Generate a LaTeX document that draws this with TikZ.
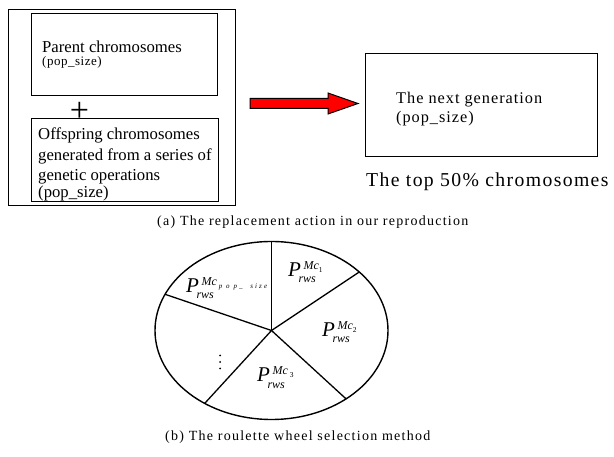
\documentclass[tikz,border=0pt]{standalone}
\usepackage{fontspec}
\setmainfont{Liberation Serif}
\usetikzlibrary{calc}

% P_{rws}^{...} label set in the text italic
\newcommand\prws[1]{{\fontsize{21}{21}\selectfont\itshape P}%
  \rlap{\kern-2.5pt\raisebox{-6pt}{\fontsize{12}{12}\selectfont\itshape rws}}%
  \kern2.5pt\raisebox{7pt}{\fontsize{12}{12}\selectfont\itshape #1}}
\newcommand\idx[1]{\raisebox{-2.5pt}{\fontsize{7.5}{7.5}\selectfont\upshape #1}}

\begin{document}
\begin{tikzpicture}[x=1pt,y=-1pt,
  box/.style={draw,line width=1.2pt,inner sep=0pt,anchor=north west},
  boxtext/.style={inner sep=0pt,anchor=base west,align=left,
    font=\fontsize{16.7}{20.5}\selectfont},
  spoke/.style={line width=1.3pt},
  caption/.style={inner sep=0pt,anchor=base west,
    font=\fontsize{14}{16}\selectfont\addfontfeature{LetterSpace=9}},
  plabel/.style={inner sep=0pt,anchor=base west},
  dot/.style={circle,fill,inner sep=0pt,minimum size=2pt}]
\useasboundingbox (0,0) rectangle (614,457);

% (a) replacement action
\node[box,minimum width=227pt,minimum height=196pt] (outer) at (8,9) {};
\node[box,minimum width=186pt,minimum height=82pt] (parent) at (31,13) {};
\node[box,minimum width=187pt,minimum height=83pt] (offspring) at (31,118) {};
\node[inner sep=0pt,font=\fontsize{34}{34}\selectfont] (plus) at (79.5,112) {+};

\node[boxtext] (parenttxt) at (42,53) {Parent chromosomes};
\node[boxtext,font=\fontsize{13}{13}\selectfont\addfontfeature{LetterSpace=4}]
  (parentsize) at (42,66) {(pop\_size)};
% the base of a multi-line node is its last line
\node[boxtext] (offtxt) at (38,197.5)
  {Offspring chromosomes\\generated from a series of\\genetic operations\\[-4pt](pop\_size)};

\node[box,minimum width=232pt,minimum height=103pt] (next) at (365,53) {};
\node[boxtext,font=\fontsize{16.3}{19}\selectfont\addfontfeature{LetterSpace=6}]
  (nexttxt) at (396,123) {The next generation\\(pop\_size)};
\node[inner sep=0pt,anchor=base west,
  font=\fontsize{19.7}{20}\selectfont\addfontfeature{LetterSpace=7}]
  (top) at (366,187) {The top 50\% chromosomes};

% red block arrow between the two parts
\coordinate (tail) at (250,103.5);
\coordinate (tip) at (358,103.5);
\draw[line width=1pt,fill=red,line join=miter]
  ($(tail)+(0,-5)$) -- ($(tip)+(-30,-5)$) -- ($(tip)+(-30,-10.5)$) -- (tip)
  -- ($(tip)+(-30,10.5)$) -- ($(tip)+(-30,5)$) -- ($(tail)+(0,5)$) -- cycle;

\node[caption] (capa) at (157,226) {(a) The replacement action in our reproduction};

% (b) roulette wheel
\coordinate (hub) at (271.5,330.5);
\draw[line width=1.4pt] (hub) ellipse [x radius=116.5, y radius=89];
\foreach \a/\n in {-90/s0,-41.1/s1,50.2/s2,125/s3,204/s4}{
  \coordinate (\n) at ($(hub)+(\a:116.5 and 89)$);
  \draw[spoke] (hub) -- (\n);
}

\node[plabel] (p1) at (288,277) {\prws{Mc\idx{1}}};
\node[plabel] (p2) at (322,337) {\prws{Mc\idx{2}}};
\node[plabel] (p3) at (257,382) {\prws{Mc\,\idx{3}}};
\node[plabel] (pn) at (186,293)
  {\prws{Mc\,\raisebox{-2.5pt}{\fontsize{7}{7}\selectfont\addfontfeature{LetterSpace=30}p o p\_\ \ size}}};

% vertical ellipsis in the unlabelled sector
\node[dot] (d1) at (220,355.5) {};
\node[dot] (d2) at (220,362) {};
\node[dot] (d3) at (220,368.5) {};

\node[caption] (capb) at (165,441) {(b) The roulette wheel selection method};
\end{tikzpicture}
\end{document}
